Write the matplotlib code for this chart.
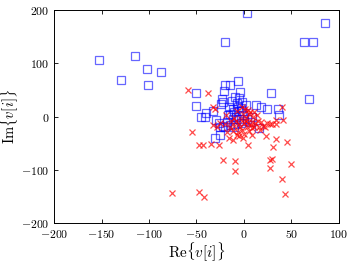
import numpy as np
import matplotlib
matplotlib.use("Agg")
import matplotlib.pyplot as plt

# blue squares (Re, Im)
blue_re = [3, 85, 63, 73, -20, -153, -115, -102, -87, -129, -101, 68, 29, -50, -50,
           -20, -15, -6, -21, -4, -9, -5, -23, -24, -22, -16, -12, -6, -3, -2, 2, 13, 18, 24, 36, 37,
           -45, -41, -40, -33, -29, -26, -22, -20, -15, -10, 16, -31, -25, -5, -1, 3, 6,
           -15, -10, -8, -5, -12, -18, -3, 0, -7, -13, -9, -17, -25, 8, -2]
blue_im = [194, 176, 140, 140, 139, 106, 114, 89, 84, 69, 59, 33, 45, 45, 20,
           60, 60, 66, 47, 46, 37, 34, 32, 24, 28, 18, 15, 18, 16, 10, 21, 21, 18, 15, 14, 2,
           -1, 0, 7, 11, -7, -12, -17, -20, -16, -20, -22, -40, -35, -4, 2, -4, -10,
           5, 8, 0, 10, -5, -10, -12, -8, 25, 30, -15, 2, -20, 0, 28]

# red crosses (Re, Im)
red_re = [-59, -38, -55, -47, -43, -35, -26, -22, -9, -9, 4, -16, -5, -76, -47, -42,
          27, 30, 27, 50, 40, 43, 45, 34, 31, 23, 34, 41, 40, 27, 30, 34, 24, 20, 16,
          -33, -30, -33, -19, 1, 6, 10, 11, 4, 11,
          -20, -15, -10, -5, 0, 3, 7, 9, -2, -6, 0, 5, -12, -8, -3, 2, 5, -1, -10, -14,
          12, 15, 8, -4, 2, -18, -7, -25, 14, 18, 4, -2, -7, 22, 17, -1, 8, -28, -12]
red_im = [50, 44, -29, -54, -54, -51, -54, -81, -84, -102, -53, -40, -37, -144, -142, -152,
          -82, -80, -96, -90, -118, -146, -48, -43, -57, -37, -6, -6, 18, -14, -15, -15, -13, -18, -20,
          -16, 15, 18, 2, 15, 8, -1, 8, -13, -20,
          -15, -20, -18, -15, -12, -20, -16, -11, -25, -30, -33, -28, -28, -8, -5, -2, 5, 5, -2, -8,
          -12, -8, -22, -20, -8, -30, -35, -12, 2, -10, 12, 18, 10, -20, -25, -40, -35, -20, -45]

plt.rcParams['font.family'] = 'cmr10'
plt.rcParams['mathtext.fontset'] = 'cm'
plt.rcParams['axes.formatter.use_mathtext'] = True

fig = plt.figure(figsize=(3.49, 2.70), dpi=100)
ax = fig.add_axes([0.155, 0.174, 0.816, 0.789])

ax.plot(blue_re, blue_im, 's', mfc='none', mec=(0, 0, 1), alpha=0.6, ms=5.5, mew=0.9)
ax.plot(red_re, red_im, 'x', color=(1, 0, 0), alpha=0.7, ms=5, mew=0.9)

ax.set_xlim(-200, 100)
ax.set_ylim(-200, 200)
ax.set_xticks(np.arange(-200, 101, 50))
ax.set_yticks(np.arange(-200, 201, 100))
ax.tick_params(direction='in', top=True, right=True, length=3, width=0.6, labelsize=8.5)
for s in ax.spines.values():
    s.set_linewidth(0.7)

ax.set_xlabel(r'$\mathrm{Re}\{v[i]\}$', fontsize=11, labelpad=1)
ax.set_ylabel(r'$\mathrm{Im}\{v[i]\}$', fontsize=10.5)
ax.yaxis.set_label_coords(-0.115, 0.5)

plt.savefig('out.png', dpi=100)
